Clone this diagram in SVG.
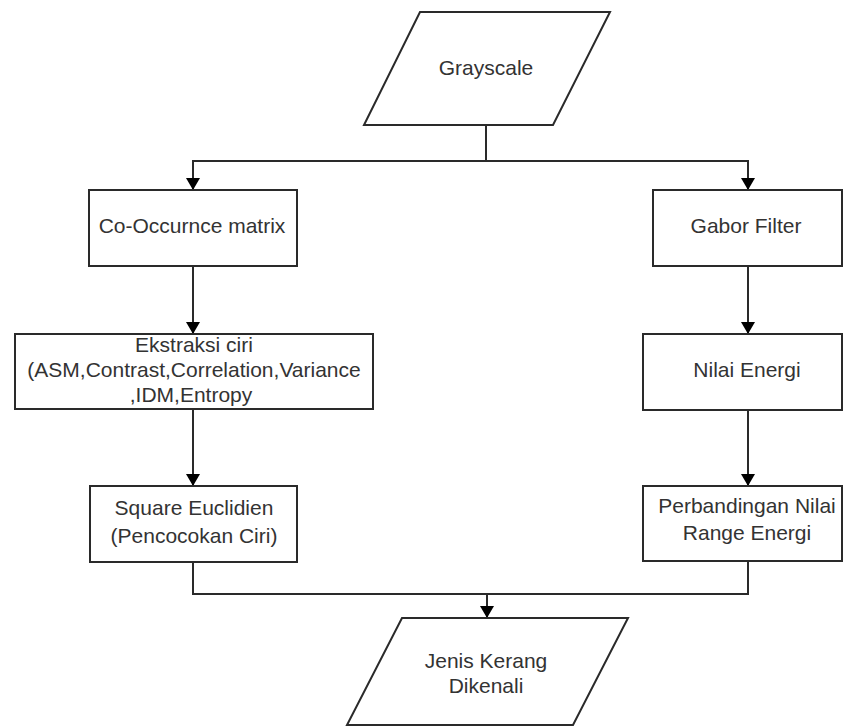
<svg xmlns="http://www.w3.org/2000/svg" width="843" height="728" viewBox="0 0 843 728">
<style>
.n{fill:#fff;stroke:#2a2a2a;stroke-width:2}
.t{font-family:"Liberation Sans",Arial,sans-serif;font-size:21px;fill:#333;text-anchor:middle}
.c{fill:none;stroke:#2a2a2a;stroke-width:2}
</style>
<defs>
<marker id="ah" markerWidth="12" markerHeight="14" refX="11" refY="7" orient="auto" markerUnits="userSpaceOnUse">
<path d="M0,0 L12,7 L0,14 Z" fill="#000"/>
</marker>
</defs>
<rect width="843" height="728" fill="#fff"/>
<g id="connectors">
<path class="c" d="M486,125 V161"/>
<path class="c" d="M193,161 H748"/>
<path class="c" d="M193,160 V189" marker-end="url(#ah)"/>
<path class="c" d="M748,160 V189" marker-end="url(#ah)"/>
<path class="c" d="M193,266 V333" marker-end="url(#ah)"/>
<path class="c" d="M748,266 V333" marker-end="url(#ah)"/>
<path class="c" d="M193,409 V485" marker-end="url(#ah)"/>
<path class="c" d="M748,410 V485" marker-end="url(#ah)"/>
<path class="c" d="M193,562 V594 H748 V561"/>
<path class="c" d="M487,594 V617" marker-end="url(#ah)"/>
</g>
<g id="grayscale">
<polygon class="n" points="420,12 610,12 553,125 364,125"/>
<text class="t" x="486" y="75">Grayscale</text>
</g>
<g id="cooccurrence">
<rect class="n" x="89" y="190" width="208" height="76"/>
<text class="t" x="192" y="233">Co-Occurnce matrix</text>
</g>
<g id="gabor">
<rect class="n" x="653" y="190" width="189" height="76"/>
<text class="t" x="746" y="233">Gabor Filter</text>
</g>
<g id="ekstraksi">
<rect class="n" x="15" y="334" width="358" height="75"/>
<text class="t" x="194" y="352">Ekstraksi ciri</text>
<text class="t" x="194" y="377">(ASM,Contrast,Correlation,Variance</text>
<text class="t" x="191" y="402">,IDM,Entropy</text>
</g>
<g id="energi">
<rect class="n" x="643" y="334" width="199" height="76"/>
<text class="t" x="747" y="377">Nilai Energi</text>
</g>
<g id="euclidien">
<rect class="n" x="90" y="486" width="207" height="76"/>
<text class="t" x="194" y="515">Square Euclidien</text>
<text class="t" x="194" y="543">(Pencocokan Ciri)</text>
</g>
<g id="perbandingan">
<rect class="n" x="643" y="486" width="199" height="75"/>
<text class="t" x="747" y="513">Perbandingan Nilai</text>
<text class="t" x="747" y="540">Range Energi</text>
</g>
<g id="jenis">
<polygon class="n" points="402,618 628,618 573,725 347,725"/>
<text class="t" x="486" y="668">Jenis Kerang</text>
<text class="t" x="486" y="693">Dikenali</text>
</g>
</svg>
